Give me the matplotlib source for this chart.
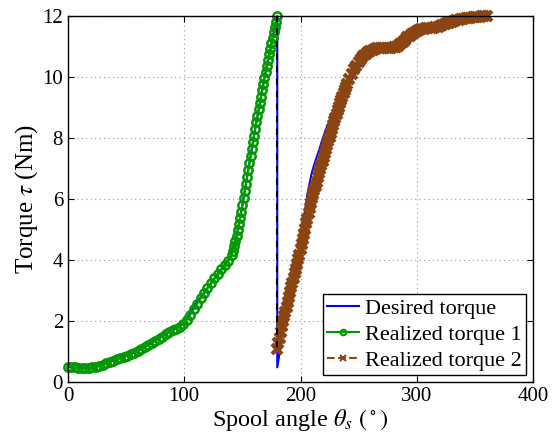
import matplotlib
matplotlib.use('Agg')
import matplotlib.pyplot as plt

# realized torque 1 (green), first half of the cycle
r1_angle = list(range(0, 142, 3)) + list(range(142, 181))
r1_torque = [0.50, 0.49, 0.48, 0.47, 0.46, 0.46, 0.47, 0.48, 0.50, 0.53,
             0.57, 0.61, 0.66, 0.70, 0.74, 0.78, 0.82, 0.86, 0.91, 0.96,
             1.02, 1.08, 1.14, 1.21, 1.28, 1.35, 1.42, 1.49, 1.56, 1.63,
             1.69, 1.75, 1.81, 1.90, 2.03, 2.20, 2.38, 2.56, 2.74, 2.92,
             3.08, 3.24, 3.40, 3.55, 3.70, 3.84, 3.98, 4.18,
             4.30, 4.45, 4.62, 4.80, 4.98, 5.17, 5.37, 5.58, 5.80, 6.02,
             6.25, 6.48, 6.71, 6.94, 7.17, 7.40, 7.63, 7.86, 8.08, 8.30,
             8.52, 8.73, 8.94, 9.15, 9.36, 9.57, 9.78, 9.98, 10.18, 10.37,
             10.56, 10.75, 10.93, 11.11, 11.29, 11.47, 11.65, 11.82, 12.00]

# realized torque 2 (brown), second half of the cycle
r2_angle = list(range(180, 241)) + list(range(242, 361, 2))
r2_torque = [1.08, 1.27, 1.45, 1.64, 1.82, 1.99, 2.15, 2.30, 2.46, 2.62,
             2.78, 2.94, 3.10, 3.26, 3.42, 3.57, 3.72, 3.87, 4.02, 4.18,
             4.35, 4.52, 4.69, 4.86, 5.03, 5.20, 5.36, 5.53, 5.69, 5.86,
             6.02, 6.16, 6.30, 6.44, 6.57, 6.71, 6.84, 6.98, 7.11, 7.25,
             7.38, 7.51, 7.64, 7.77, 7.90, 8.03, 8.16, 8.29, 8.42, 8.55,
             8.67, 8.79, 8.91, 9.03, 9.14, 9.25, 9.36, 9.47, 9.57, 9.67,
             9.77,
             9.95, 10.11, 10.25, 10.38, 10.50, 10.60, 10.68, 10.75, 10.81, 10.86,
             10.89, 10.92, 10.94, 10.95, 10.96, 10.96, 10.96, 10.97, 10.97, 10.98,
             11.00, 11.03, 11.07, 11.14, 11.22, 11.30, 11.36, 11.42, 11.46, 11.50,
             11.54, 11.57, 11.59, 11.60, 11.61, 11.62, 11.62, 11.63, 11.65, 11.67,
             11.70, 11.73, 11.76, 11.79, 11.82, 11.84, 11.86, 11.88, 11.90, 11.91,
             11.93, 11.94, 11.95, 11.96, 11.97, 11.98, 11.98, 11.99, 12.00, 12.00]

# desired torque (blue)
des_angle = [0, 10, 20, 30, 40, 50, 60, 70, 80, 90, 100, 110, 120, 130, 140,
             145, 150, 155, 160, 165, 170, 175, 180,
             180, 182, 184, 186, 188, 190, 192, 194, 196, 198, 200, 202, 204,
             206, 208, 210, 212, 214, 216, 218, 220, 222, 224, 226, 228, 230,
             232, 234, 236, 238, 240, 242, 244, 246, 248, 250, 252, 254, 256,
             258, 260, 262, 264, 266, 268, 270, 272, 274, 276, 278, 280,
             290, 300, 310, 320, 330, 340, 350, 360]
des_torque = [0.50, 0.47, 0.46, 0.57, 0.72, 0.85, 1.02, 1.24, 1.47, 1.69,
              1.95, 2.56, 3.08, 3.60, 4.10, 4.80, 5.80, 6.94, 8.08, 9.15,
              10.18, 11.11, 12.00,
              0.48, 0.95, 1.40, 1.83, 2.22, 2.60, 2.98, 3.36, 3.74, 4.12,
              4.55, 5.10, 5.65, 6.15, 6.55, 6.90, 7.15, 7.38, 7.60, 7.85,
              8.08, 8.30, 8.48, 8.60, 8.72, 8.87, 9.02, 9.14, 9.29, 9.44,
              9.60, 9.75, 9.90, 10.04, 10.18, 10.30, 10.40, 10.50, 10.58, 10.66,
              10.72, 10.77, 10.81, 10.84, 10.86, 10.87, 10.89, 10.91, 10.94, 10.97,
              10.98, 11.22, 11.50, 11.61, 11.67, 11.82, 11.91, 11.97, 12.00]

# switch between the two halves
jump_angle = [180, 180]
jump_torque = [12.0, 1.08]

plt.rcParams['font.family'] = ['Liberation Serif', 'DejaVu Serif']
plt.rcParams['mathtext.fontset'] = 'stix'

green = '#009900'
brown = '#8B4513'

fig = plt.figure(figsize=(5.57, 4.36), dpi=100)
ax = fig.add_axes([0.122, 0.124, 0.835, 0.839])

ax.plot(des_angle, des_torque, color='blue', lw=1.5, label='Desired torque')
ax.plot(r1_angle, r1_torque, color=green, lw=1.5, marker='o', ms=6,
        mfc='none', mec=green, mew=1.8, label='Realized torque 1', clip_on=False)
ax.plot(r2_angle, r2_torque, color=brown, lw=1.5, ls='--', marker='x', ms=6.5,
        mew=3, label='Realized torque 2', clip_on=False)
ax.plot(jump_angle, jump_torque, color='black', lw=1.5, ls='--', dashes=(3, 3))

ax.set_xlim(0, 400)
ax.set_ylim(0, 12)
ax.set_xticks([0, 100, 200, 300, 400])
ax.set_yticks([0, 2, 4, 6, 8, 10, 12])
ax.tick_params(direction='in', top=True, right=True, labelsize=15, length=4)
ax.grid(True, color='#999999', ls=(0, (1, 3)), lw=0.8)
for s in ax.spines.values():
    s.set_linewidth(1.0)

ax.set_xlabel(r'Spool angle $\theta_s$ $(^\circ)$', fontsize=17.5, labelpad=1)
ax.set_ylabel(r'Torque $\tau$ (Nm)', fontsize=18, labelpad=2)

leg = ax.legend(loc='lower right', fontsize=16, fancybox=False, framealpha=1,
                edgecolor='black', labelspacing=0.25, borderpad=0.2,
                handlelength=1.4, handletextpad=0.3, borderaxespad=0.3,
                numpoints=1)
leg.get_frame().set_linewidth(1.0)
for h in leg.get_lines():
    h.set_markersize(4)
    h.set_markeredgewidth(1.5)

fig.savefig('out.png', dpi=100)
